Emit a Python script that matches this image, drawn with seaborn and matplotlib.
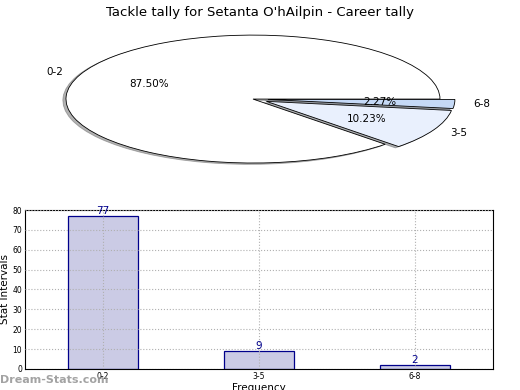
import matplotlib
matplotlib.use("Agg")
import matplotlib.pyplot as plt
import seaborn as sns
import pandas as pd

categories = ["0-2", "3-5", "6-8"]
counts = [77, 9, 2]
pie_colors = ["#ffffff", "#e9f0fd", "#c5d9f6"]
explode = [0.0, 0.08, 0.08]

sns.set_style("white")
plt.rcParams['font.family'] = ['DejaVu Sans']
plt.rcParams['text.color'] = 'black'
plt.rcParams['axes.labelcolor'] = 'black'
plt.rcParams['xtick.color'] = 'black'
plt.rcParams['ytick.color'] = 'black'

fig = plt.figure(figsize=(5.2, 3.9), dpi=100)

# Pie (squashed ellipse)
axp = fig.add_axes([0.037, 0.541, 0.899, 0.41])
wedges, texts, autotexts = axp.pie(
    counts, labels=categories, colors=pie_colors, explode=explode,
    autopct='%1.2f%%', startangle=0, counterclock=True,
    shadow={'ox': -0.012, 'oy': -0.015, 'shade': 0.6},
    wedgeprops=dict(edgecolor='black', linewidth=0.6),
    textprops=dict(fontsize=7.5, color='black'))
axp.set_aspect('auto')
axp.set_xlim(-1.25, 1.25)
axp.set_ylim(-1.25, 1.25)
fig.text(0.5, 0.985, "Tackle tally for Setanta O'hAilpin - Career tally",
         ha='center', va='top', fontsize=9.5, color='black')

# Bar chart
axb = fig.add_axes([0.048, 0.054, 0.9, 0.4075])
df = pd.DataFrame({"cat": categories, "val": counts})
sns.barplot(data=df, x="cat", y="val", ax=axb, color="#cbcbe5",
            width=0.45, edgecolor="#00008b", linewidth=0.9, saturation=1)
for i, v in enumerate(counts):
    axb.text(i, v, str(v), ha='center', va='bottom', color='#00008b', fontsize=7.5)
axb.set_xlim(-0.5, 2.5)
axb.set_ylim(0, 80)
axb.set_yticks(range(0, 81, 10))
axb.grid(True, linestyle=':', color='#b0b0b0', linewidth=0.8)
axb.set_axisbelow(False)
for p in axb.patches:
    p.set_zorder(1)
axb.tick_params(labelsize=5.5, length=0, pad=2)
axb.set_xlabel("Frequency", fontsize=7.5, labelpad=2)
axb.set_ylabel("Stat Intervals", fontsize=7.5, labelpad=2)
for s in axb.spines.values():
    s.set_color('black')
    s.set_linewidth(0.8)

fig.text(0.0, 0.025, "Dream-Stats.com", fontsize=8, color='#999999', ha='left', va='center',
         fontweight='bold', alpha=0.9)

fig.savefig("out.png", dpi=100)
